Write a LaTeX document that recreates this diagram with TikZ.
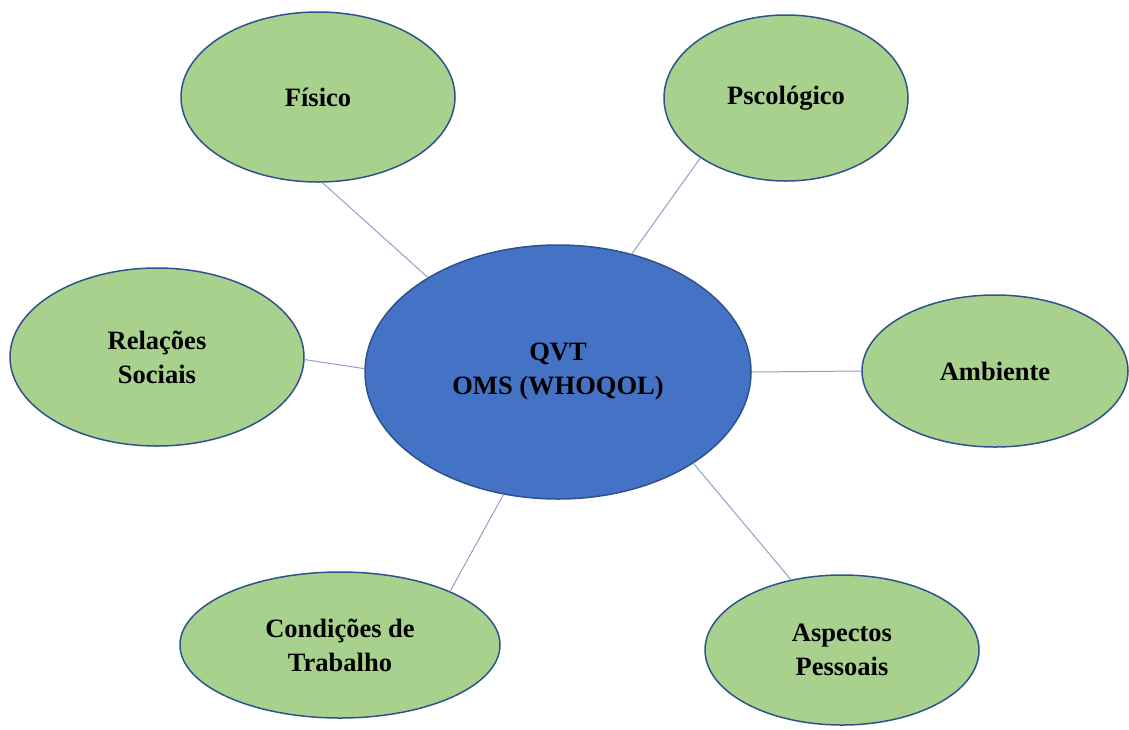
\documentclass[tikz,border=0pt]{standalone}
\usepackage{fontspec}
\setmainfont{Liberation Serif}
\usetikzlibrary{shapes.geometric}
\definecolor{verde}{HTML}{A9D18E}
\definecolor{azul}{HTML}{4472C4}
\definecolor{borda}{HTML}{2F528F}
\definecolor{linha}{HTML}{8EA0C8}

\begin{document}
\begin{tikzpicture}[x=1pt,y=-1pt,
  e/.style={ellipse,draw=borda,line width=1.5pt,fill=verde,inner sep=0pt,align=center,
    font=\fontsize{26.5}{34}\selectfont\bfseries},
  l/.style={draw=linha,line width=1pt}]
\useasboundingbox (0,0) rectangle (1129,729);
\node[e,fill=azul,minimum width=386pt,minimum height=254pt] (q) at (558,372) {QVT\\OMS (WHOQOL)};
\node[e,minimum width=274pt,minimum height=170pt] (f) at (318,97) {Físico};
\node[e,minimum width=244pt,minimum height=166pt] (p) at (786,98) {Pscológico};
\node[e,minimum width=294pt,minimum height=178pt] (r) at (157,357) {Relações\\Sociais};
\node[e,minimum width=266pt,minimum height=152pt] (a) at (995,371) {Ambiente};
\node[e,minimum width=320pt,minimum height=146pt] (c) at (340,645) {Condições de\\Trabalho};
\node[e,minimum width=274pt,minimum height=150pt] (s) at (842,650) {Aspectos\\Pessoais};
\draw[l] (f.-87)--(q.144);
\draw[l] (p.215)--(q.58);
\draw[l] (r.-1)--(q.179);
\draw[l] (a.180)--(q.0);
\draw[l] (c.26)--(q.-114);
\draw[l] (s.126)--(q.-34);
\end{tikzpicture}
\end{document}
